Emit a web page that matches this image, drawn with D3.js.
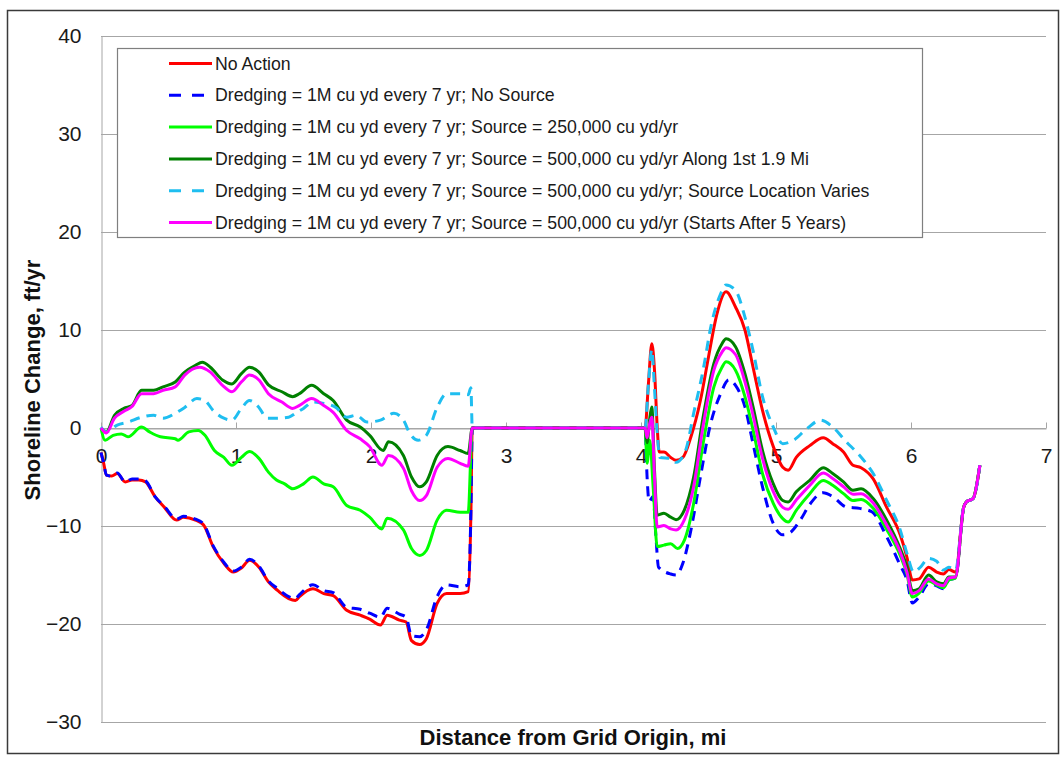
<!DOCTYPE html>
<html>
<head>
<meta charset="utf-8">
<script src="https://cdn.jsdelivr.net/npm/d3@7"></script>
<style>
  html, body { margin: 0; padding: 0; background: #fff; }
  svg { display: block; font-family: "Liberation Sans", Arial, sans-serif; }
</style>
</head>
<body>
<svg id="chart" width="1061" height="757"></svg>
<script>
// ---------- data ----------
const xTicks = [0, 1, 2, 3, 4, 5, 6, 7];
const yTicks = [-30, -20, -10, 0, 10, 20, 30, 40];

const seriesNames = [
  "No Action",
  "Dredging = 1M cu yd every 7 yr; No Source",
  "Dredging = 1M cu yd every 7 yr; Source = 250,000 cu yd/yr",
  "Dredging = 1M cu yd every 7 yr; Source = 500,000 cu yd/yr Along 1st 1.9 Mi",
  "Dredging = 1M cu yd every 7 yr; Source = 500,000 cu yd/yr; Source Location Varies",
  "Dredging = 1M cu yd every 7 yr; Source = 500,000 cu yd/yr (Starts After 5 Years)"
];
const seriesColors = ["#ff0000", "#0000ff", "#00ff00", "#008000", "#1fbef0", "#ff00ff"];
const seriesDashed = [false, true, false, false, true, false];

// [distance mi, shoreline change ft/yr]
const noAction = [[0,-2.5],[0.02,-3.6],[0.04,-4.8],[0.08,-4.9],[0.12,-4.65],[0.18,-5.5],[0.23,-5.3],[0.28,-5.3],[0.33,-5.5],[0.40,-7.0],[0.47,-8.1],[0.56,-9.4],[0.61,-9.1],[0.70,-9.4],[0.76,-9.9],[0.83,-12.1],[0.91,-13.8],[0.98,-14.7],[1.04,-14.3],[1.10,-13.5],[1.17,-14.2],[1.24,-15.7],[1.31,-16.6],[1.39,-17.4],[1.44,-17.6],[1.47,-17.2],[1.57,-16.4],[1.65,-16.9],[1.72,-17.1],[1.82,-18.6],[1.92,-19.1],[1.99,-19.5],[2.07,-20.1],[2.12,-19.1],[2.21,-19.6],[2.26,-19.8],[2.30,-21.7],[2.36,-22.1],[2.41,-21.5],[2.49,-17.9],[2.56,-16.9],[2.66,-16.9],[2.72,-16.7],[2.74,-8.7],[2.75,0],[4.03,0],[4.055,4.5],[4.08,8.6],[4.10,5.9],[4.12,0.1],[4.135,-2.45],[4.17,-2.45],[4.22,-3.0],[4.26,-3.3],[4.31,-3.0],[4.37,-0.9],[4.44,2.8],[4.50,7.25],[4.56,11.5],[4.63,13.9],[4.70,12.35],[4.77,10.0],[4.83,6.2],[4.90,1.8],[4.98,-1.9],[5.05,-4.0],[5.09,-4.3],[5.15,-3.0],[5.25,-1.8],[5.35,-1.0],[5.42,-1.6],[5.50,-2.45],[5.57,-3.8],[5.63,-4.05],[5.72,-5.2],[5.82,-8.1],[5.92,-10.9],[5.97,-13.2],[6.01,-15.5],[6.06,-15.4],[6.13,-14.2],[6.19,-14.7],[6.24,-14.9],[6.28,-14.45],[6.33,-14.7],[6.39,-8.1],[6.41,-7.55],[6.46,-7.2],[6.51,-3.8]];

const noSource = [[0,-2.5],[0.02,-3.6],[0.04,-4.8],[0.08,-4.9],[0.12,-4.6],[0.18,-5.5],[0.23,-5.2],[0.28,-5.2],[0.33,-5.4],[0.40,-7.0],[0.47,-8.0],[0.56,-9.3],[0.61,-9.0],[0.70,-9.3],[0.76,-9.8],[0.83,-12.0],[0.91,-13.7],[0.98,-14.6],[1.04,-14.2],[1.10,-13.4],[1.17,-14.1],[1.24,-15.6],[1.31,-16.4],[1.39,-17.2],[1.44,-17.4],[1.47,-17.0],[1.57,-16.0],[1.65,-16.6],[1.72,-16.8],[1.82,-18.3],[1.92,-18.5],[1.99,-18.9],[2.07,-19.3],[2.12,-18.4],[2.21,-19.0],[2.26,-19.3],[2.30,-21.2],[2.36,-21.3],[2.41,-20.6],[2.49,-17.2],[2.56,-16.0],[2.66,-16.2],[2.72,-16.0],[2.74,-8.5],[2.75,0],[4.03,0],[4.045,-5.0],[4.06,-7.5],[4.09,-7.0],[4.11,-11.0],[4.13,-14.2],[4.22,-14.9],[4.26,-15.0],[4.31,-13.8],[4.37,-10.4],[4.44,-5.0],[4.51,0.1],[4.59,3.5],[4.65,4.9],[4.70,4.35],[4.77,2.15],[4.83,-1.6],[4.90,-6.0],[4.98,-9.75],[5.05,-10.9],[5.09,-10.8],[5.18,-9.4],[5.25,-7.8],[5.35,-6.6],[5.42,-7.0],[5.52,-8.05],[5.62,-8.2],[5.71,-8.55],[5.82,-11.1],[5.92,-14.0],[5.97,-15.5],[6.01,-17.85],[6.06,-17.25],[6.13,-15.9],[6.19,-16.1],[6.24,-16.4],[6.28,-15.5],[6.33,-15.3],[6.39,-8.1],[6.41,-7.55],[6.46,-7.2],[6.51,-3.8]];

const source250k = [[0,0],[0.03,-1.25],[0.09,-0.75],[0.15,-0.6],[0.20,-0.9],[0.30,0.1],[0.36,-0.4],[0.44,-0.9],[0.55,-1.1],[0.57,-1.25],[0.65,-0.4],[0.72,-0.25],[0.77,-0.75],[0.84,-2.3],[0.91,-3.0],[0.97,-3.8],[1.04,-3.0],[1.10,-2.4],[1.17,-3.1],[1.24,-4.5],[1.30,-5.3],[1.36,-5.7],[1.42,-6.2],[1.50,-5.7],[1.57,-5.0],[1.65,-5.7],[1.72,-6.0],[1.82,-7.9],[1.92,-8.4],[1.99,-9.1],[2.08,-10.3],[2.12,-9.2],[2.24,-10.4],[2.30,-12.3],[2.36,-13.0],[2.41,-12.5],[2.49,-9.4],[2.56,-8.4],[2.66,-8.6],[2.72,-8.6],[2.75,0],[4.03,0],[4.045,-3.6],[4.065,-1.25],[4.09,-6.0],[4.12,-12.1],[4.17,-11.95],[4.22,-11.8],[4.27,-12.3],[4.32,-11.5],[4.39,-7.7],[4.46,-1.6],[4.54,4.2],[4.60,6.2],[4.63,6.75],[4.70,5.9],[4.77,3.2],[4.83,-0.2],[4.90,-4.65],[4.98,-7.7],[5.05,-9.25],[5.09,-9.6],[5.15,-8.4],[5.25,-6.7],[5.35,-5.35],[5.42,-5.85],[5.50,-6.7],[5.57,-7.4],[5.63,-7.3],[5.72,-8.2],[5.82,-10.35],[5.92,-13.0],[5.97,-14.9],[6.01,-17.25],[6.06,-16.85],[6.13,-15.6],[6.19,-16.0],[6.24,-16.3],[6.28,-15.5],[6.33,-15.3],[6.39,-8.1],[6.41,-7.55],[6.46,-7.2],[6.51,-3.8]];

const source500kAlong = [[0,0],[0.04,-0.4],[0.10,1.3],[0.17,2.0],[0.23,2.3],[0.30,3.85],[0.39,3.85],[0.46,4.2],[0.55,4.7],[0.62,5.7],[0.70,6.4],[0.75,6.7],[0.81,6.2],[0.90,4.9],[0.97,4.5],[1.04,5.55],[1.10,6.2],[1.17,5.7],[1.24,4.4],[1.34,3.7],[1.42,3.2],[1.47,3.5],[1.56,4.35],[1.65,3.5],[1.72,2.8],[1.82,0.8],[1.92,0.1],[1.99,-0.75],[2.09,-2.3],[2.13,-1.4],[2.24,-2.8],[2.30,-5.0],[2.36,-6.0],[2.41,-5.5],[2.49,-2.8],[2.57,-1.9],[2.66,-2.3],[2.72,-2.6],[2.75,0],[4.03,0],[4.045,-1.5],[4.065,1.0],[4.08,2.15],[4.10,-4.3],[4.12,-8.9],[4.17,-8.7],[4.22,-9.1],[4.26,-9.35],[4.32,-8.4],[4.39,-5.0],[4.46,1.1],[4.54,6.6],[4.60,8.6],[4.63,9.1],[4.70,8.3],[4.77,5.55],[4.83,2.15],[4.90,-2.3],[4.98,-5.7],[5.05,-7.4],[5.09,-7.55],[5.15,-6.5],[5.25,-5.35],[5.35,-4.05],[5.42,-4.65],[5.50,-5.5],[5.57,-6.35],[5.63,-6.2],[5.72,-7.2],[5.82,-9.4],[5.92,-12.3],[5.97,-14.2],[6.01,-16.6],[6.06,-16.4],[6.13,-15.0],[6.19,-15.7],[6.24,-15.9],[6.28,-15.2],[6.33,-15.2],[6.39,-8.1],[6.41,-7.55],[6.46,-7.2],[6.51,-3.8]];

const sourceVaries = [[0,0.1],[0.04,-0.4],[0.12,0.3],[0.20,0.6],[0.30,1.1],[0.39,1.3],[0.46,1.0],[0.55,1.5],[0.62,2.1],[0.71,3.0],[0.77,2.8],[0.83,1.8],[0.91,1.0],[0.97,0.8],[1.04,2.0],[1.10,2.8],[1.17,2.1],[1.23,1.0],[1.30,1.0],[1.39,1.1],[1.44,1.5],[1.50,2.0],[1.57,2.65],[1.65,2.5],[1.74,2.1],[1.82,1.1],[1.89,1.3],[1.97,0.6],[2.07,0.8],[2.17,1.5],[2.24,0.8],[2.29,-0.6],[2.35,-1.25],[2.41,-0.75],[2.49,2.1],[2.56,3.5],[2.66,3.5],[2.72,3.4],[2.74,4.1],[2.75,0],[4.03,0],[4.055,4.5],[4.08,8.0],[4.10,4.0],[4.12,-0.5],[4.14,-3.0],[4.22,-3.1],[4.26,-3.5],[4.33,-2.3],[4.39,1.5],[4.46,5.9],[4.52,10.5],[4.59,13.7],[4.63,14.6],[4.70,14.05],[4.77,11.3],[4.83,7.9],[4.90,3.2],[4.98,0.1],[5.05,-1.6],[5.13,-1.25],[5.23,-0.05],[5.33,0.8],[5.42,0.1],[5.52,-1.4],[5.62,-2.8],[5.72,-4.65],[5.82,-7.4],[5.92,-10.4],[5.97,-12.8],[6.02,-14.7],[6.07,-14.2],[6.13,-13.3],[6.19,-13.6],[6.24,-14.5],[6.28,-14.2],[6.33,-14.5],[6.39,-8.1],[6.41,-7.55],[6.46,-7.2],[6.51,-3.8]];

const startsAfter5 = [[0,0],[0.04,-0.5],[0.10,1.0],[0.17,1.7],[0.23,2.2],[0.30,3.5],[0.39,3.5],[0.46,3.85],[0.55,4.2],[0.62,5.4],[0.73,6.2],[0.81,5.7],[0.90,4.35],[0.97,3.7],[1.04,4.7],[1.10,5.4],[1.17,4.9],[1.24,3.5],[1.34,2.65],[1.42,2.0],[1.47,2.3],[1.56,3.0],[1.65,2.3],[1.72,1.6],[1.82,-0.25],[1.92,-1.1],[1.99,-1.9],[2.08,-3.8],[2.13,-2.8],[2.24,-4.1],[2.30,-6.4],[2.36,-7.4],[2.41,-6.9],[2.49,-4.0],[2.57,-3.1],[2.66,-3.6],[2.72,-3.9],[2.75,0],[4.03,0],[4.045,-1.0],[4.065,0.5],[4.08,1.1],[4.10,-5.0],[4.12,-10.1],[4.17,-9.95],[4.22,-10.3],[4.26,-10.4],[4.32,-9.4],[4.39,-6.0],[4.46,0.2],[4.54,5.9],[4.60,7.75],[4.63,8.2],[4.70,7.5],[4.77,4.7],[4.83,1.3],[4.90,-3.1],[4.98,-6.5],[5.05,-8.1],[5.09,-8.3],[5.15,-7.35],[5.25,-5.85],[5.35,-4.6],[5.42,-5.15],[5.50,-6.0],[5.57,-6.75],[5.63,-6.7],[5.72,-7.65],[5.82,-9.9],[5.92,-12.65],[5.97,-14.7],[6.01,-16.9],[6.06,-16.6],[6.13,-15.4],[6.19,-15.9],[6.24,-16.1],[6.28,-15.3],[6.33,-15.2],[6.39,-8.1],[6.41,-7.55],[6.46,-7.2],[6.51,-3.8]];

const allSeries = [noAction, noSource, source250k, source500kAlong, sourceVaries, startsAfter5];

// ---------- drawing ----------
const svg = d3.select("#chart");
const plot = { left: 101, right: 1046, top: 36, bottom: 722 };

const x = d3.scaleLinear().domain([0, 7]).range([plot.left, plot.right]);
const y = d3.scaleLinear().domain([-30, 40]).range([plot.bottom, plot.top]);

// outer frame
svg.append("rect").attr("x", 7.5).attr("y", 10.5).attr("width", 1051).attr("height", 743)
  .attr("fill", "#fff").attr("stroke", "#3a3a3a").attr("stroke-width", 1.5);

// horizontal gridlines
svg.append("g").selectAll("line").data(yTicks).join("line")
  .attr("x1", plot.left).attr("x2", plot.right)
  .attr("y1", d => Math.round(y(d)) + 0.5).attr("y2", d => Math.round(y(d)) + 0.5)
  .attr("stroke", "#a6a6a6").attr("stroke-width", 1);

// y axis
const yAxis = d3.axisLeft(y).tickValues(yTicks).tickSize(0).tickPadding(20).tickFormat(d3.format("d"));
const gy = svg.append("g").attr("transform", `translate(${plot.left + 0.5},0)`).call(yAxis);
gy.select(".domain").attr("stroke", "#a6a6a6");
gy.selectAll("text").attr("font-size", 21).attr("fill", "#1a1a1a")
  .attr("font-family", "'Liberation Sans', Arial, sans-serif");

// x axis at y=0
const xAxis = d3.axisBottom(x).tickValues(xTicks).tickSizeInner(-6).tickSizeOuter(0).tickPadding(20).tickFormat(d3.format("d"));
const gx = svg.append("g").attr("transform", `translate(0,${Math.round(y(0)) + 0.5})`).call(xAxis);
gx.select(".domain").attr("stroke", "#a6a6a6");
gx.selectAll(".tick line").attr("stroke", "#a6a6a6");
gx.selectAll("text").attr("font-size", 21).attr("fill", "#1a1a1a")
  .attr("font-family", "'Liberation Sans', Arial, sans-serif");

// lines
const line = d3.line().x(d => x(d[0])).y(d => y(d[1])).curve(d3.curveMonotoneX);
const gl = svg.append("g");
allSeries.forEach((s, i) => {
  gl.append("path").datum(s).attr("d", line)
    .attr("fill", "none").attr("stroke", seriesColors[i])
    .attr("stroke-width", 3).attr("stroke-linejoin", "round")
    .attr("stroke-dasharray", seriesDashed[i] ? "10,7" : null);
});

// legend
const lg = svg.append("g");
lg.append("rect").attr("x", 117.5).attr("y", 48.5).attr("width", 805).attr("height", 189)
  .attr("fill", "#fff").attr("stroke", "#7f7f7f").attr("stroke-width", 1.2);
const rowY = d3.scaleLinear().domain([0, 5]).range([63.5, 222.5]);
seriesNames.forEach((name, i) => {
  const yy = rowY(i);
  lg.append("line").attr("x1", 169).attr("x2", 212).attr("y1", yy).attr("y2", yy)
    .attr("stroke", seriesColors[i]).attr("stroke-width", 3)
    .attr("stroke-dasharray", seriesDashed[i] ? "12,11" : null);
  lg.append("text").attr("x", 215).attr("y", yy).attr("dy", "0.35em")
    .attr("font-size", 17.7).attr("fill", "#1a1a1a").text(name);
});

// axis titles
svg.append("text").attr("x", 573).attr("y", 745)
  .attr("text-anchor", "middle").attr("font-weight", "bold").attr("font-size", 22)
  .attr("fill", "#111")
  .text("Distance from Grid Origin, mi");
svg.append("text").attr("transform", "translate(32,380) rotate(-90)")
  .attr("text-anchor", "middle").attr("dy", "0.35em").attr("font-weight", "bold").attr("font-size", 22)
  .attr("fill", "#111")
  .text("Shoreline Change, ft/yr");
</script>
</body>
</html>
